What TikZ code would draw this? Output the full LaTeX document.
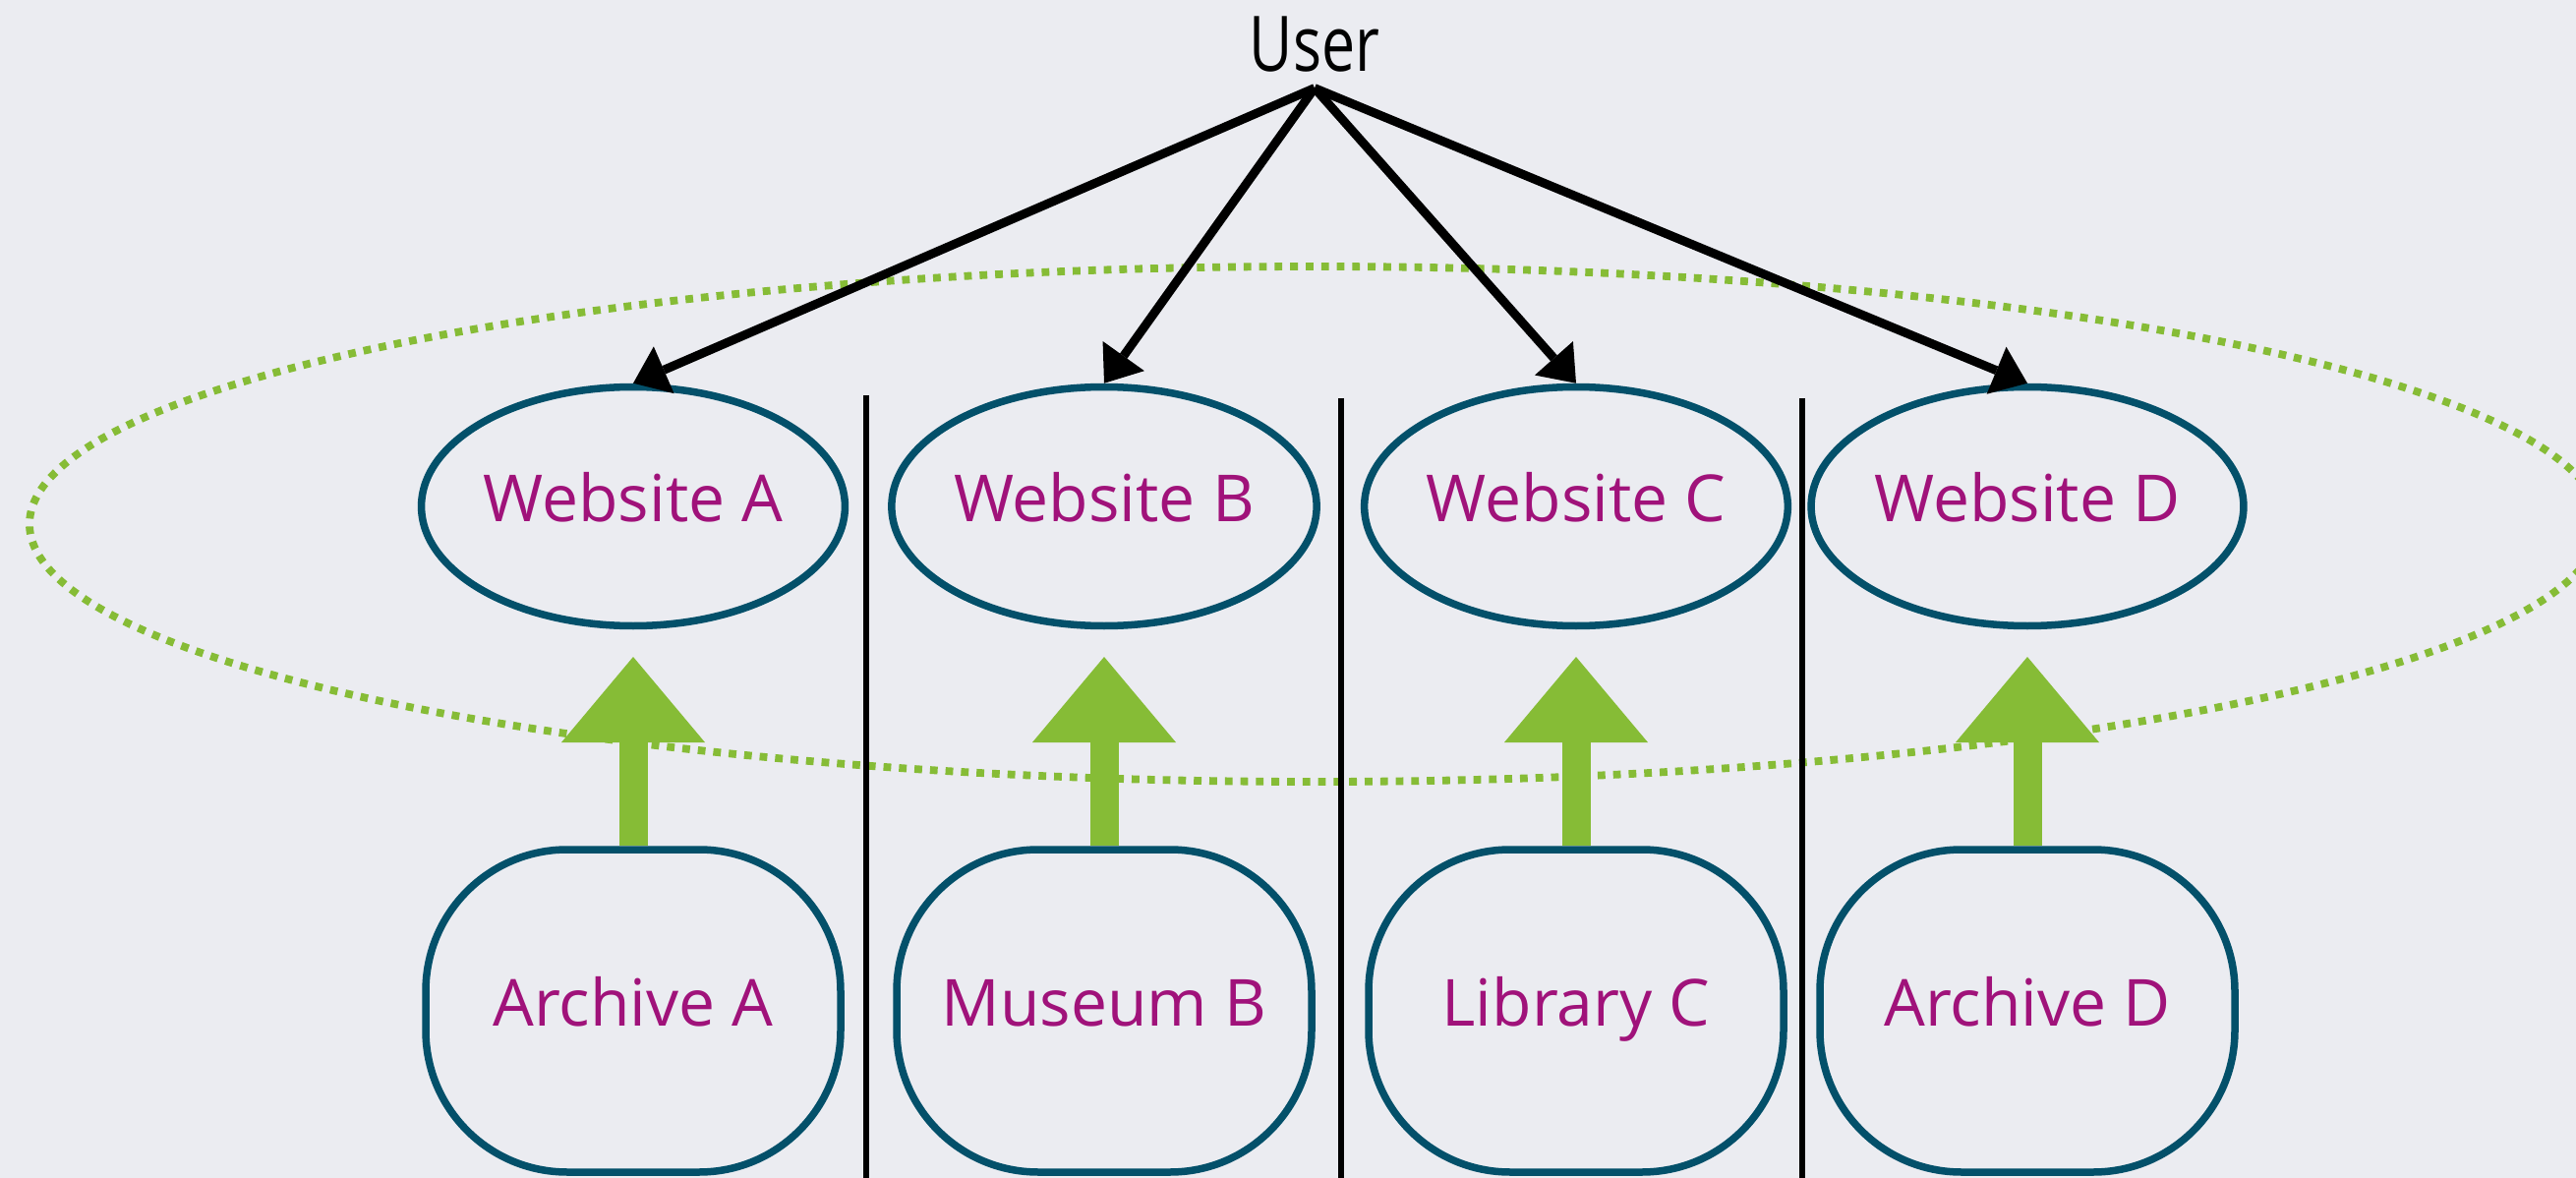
\documentclass[tikz,border=0pt]{standalone}
\usepackage{fontspec}
\setmainfont{Open Sans}
\newfontfamily\userfont{Open Sans}[FakeStretch=0.78]
\usetikzlibrary{arrows.meta,shapes.geometric}
\definecolor{bg}{HTML}{EBECF1}
\definecolor{tealc}{HTML}{03506A}
\definecolor{mag}{HTML}{A0127A}
\definecolor{lgreen}{HTML}{86BC36}
\begin{document}
\begin{tikzpicture}[x=0.5pt,y=-0.5pt,
  lbl/.style={text=mag, font=\fontsize{33}{40}\selectfont, text height=23.6pt, text depth=8pt},
  site/.style={ellipse, draw=tealc, line width=3.75pt, fill=bg, minimum width=212.5pt, minimum height=121.5pt, inner sep=0pt, lbl},
  holder/.style={rectangle, rounded corners=72pt, draw=tealc, line width=3.75pt, fill=bg, minimum width=211pt, minimum height=164pt, inner sep=0pt, lbl},
  useredge/.style={draw=black, line width=4.5pt, -{Triangle[length=17pt,width=26pt,line width=0pt]}},
  fatarrow/.style={draw=lgreen, line width=14.5pt, -{Triangle[length=43.5pt,width=73pt,line width=0pt]}},
  sepline/.style={draw=black, line width=2.75pt},
  zone/.style={draw=lgreen, line width=3.9pt, dash pattern=on 3.9pt off 4pt}
]
\useasboundingbox[fill=bg] (0,0) rectangle (2620,1198);
% dotted grouping ellipse
\draw[zone] (1337,533) ellipse [x radius=653.5pt, y radius=131pt];
% separators
\draw[sepline] (881,402) -- (881,1198);
\draw[sepline] (1364,405) -- (1364,1198);
\draw[sepline] (1833,405) -- (1833,1198);
% user
\node[inner sep=8pt, font=\userfont\fontsize{39}{44}\selectfont] (user) at (1337,45) {User};
% websites
\node[site] (wA) at (644,515) {Website A};
\node[site] (wB) at (1123,515) {Website B};
\node[site] (wC) at (1603,515) {Website C};
\node[site] (wD) at (2062,515) {Website D};
% holders
\node[holder] (hA) at (644,1028) {Archive A};
\node[holder] (hB) at (1123,1028) {Museum B};
\node[holder] (hC) at (1603,1028) {Library C};
\node[holder] (hD) at (2062,1028) {Archive D};
% arrow tips of green arrows
\coordinate (tA) at (644,668);
\coordinate (tB) at (1123,668);
\coordinate (tC) at (1603,668);
\coordinate (tD) at (2062,668);
\draw[fatarrow] (hA.north) -- (tA);
\draw[fatarrow] (hB.north) -- (tB);
\draw[fatarrow] (hC.north) -- (tC);
\draw[fatarrow] (hD.north) -- (tD);
% user arrows
\draw[useredge] (user.south) -- (wA.north);
\draw[useredge] (user.south) -- (wB.north);
\draw[useredge] (user.south) -- (wC.north);
\draw[useredge] (user.south) -- (wD.north);
\end{tikzpicture}
\end{document}
